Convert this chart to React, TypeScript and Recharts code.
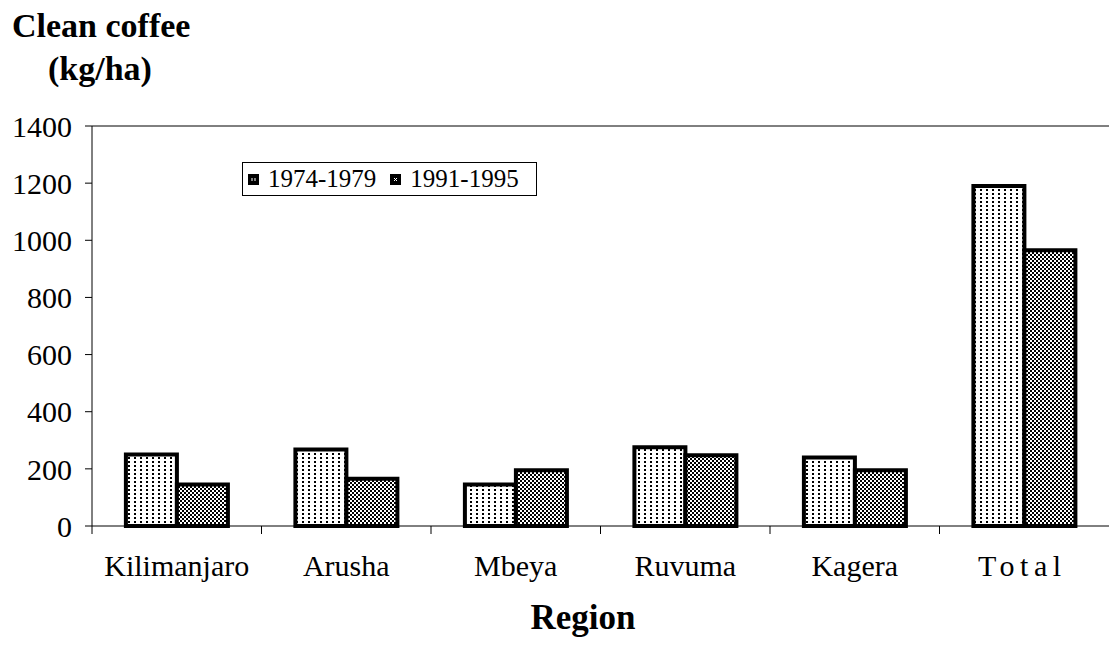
import React from 'react';
import { BarChart, Bar, XAxis, YAxis, ReferenceLine } from 'recharts';

// data
const regions = ['Kilimanjaro', 'Arusha', 'Mbeya', 'Ruvuma', 'Kagera', 'Total'];
const yield7479 = [250, 268, 145, 276, 240, 1190];
const yield9195 = [145, 165, 195, 248, 195, 965];
const yTicks = [0, 200, 400, 600, 800, 1000, 1200, 1400];
const seriesNames = ['1974-1979', '1991-1995'];

const W = 1109;
const H = 646;
const PLOT_LEFT = 92;
const PLOT_TOP = 126;
const PLOT_BOTTOM = 526;
const FONT = '"Liberation Serif", "Times New Roman", serif';

const data = regions.map((r, i) => ({
  region: r,
  early: yield7479[i],
  late: yield9195[i],
}));

const step = (W - PLOT_LEFT) / regions.length;

// category label + excel-style tick at category boundary
const RegionTick = (props: any) => {
  const { x, y, payload } = props;
  const spaced = payload.value === 'Total';
  return (
    <g>
      <line x1={x - step / 2} x2={x - step / 2} y1={y} y2={y + 8} stroke="#000" strokeWidth={1} />
      <text
        x={spaced ? x - 2 : x}
        y={y + 50}
        textAnchor="middle"
        fontFamily={FONT}
        fontSize={30}
        fill="#000"
        letterSpacing={spaced ? 5.5 : 0}
      >
        {payload.value}
      </text>
    </g>
  );
};

const LegendIcon = ({ idx }: { idx: number }) => (
  <svg width={11} height={11} style={{ display: 'block' }}>
    <rect x={0} y={0} width={11} height={11} fill="#000" />
    {idx === 0 ? (
      <>
        <rect x={3.5} y={4} width={1} height={3} fill="#fff" />
        <rect x={6.5} y={4} width={1} height={3} fill="#fff" />
      </>
    ) : (
      <>
        <rect x={4} y={4} width={1} height={1} fill="#fff" />
        <rect x={6} y={4} width={1} height={1} fill="#fff" />
        <rect x={5} y={5} width={1} height={1} fill="#fff" />
        <rect x={4} y={6} width={1} height={1} fill="#fff" />
        <rect x={6} y={6} width={1} height={1} fill="#fff" />
      </>
    )}
  </svg>
);

const LegendBox = () => (
  <div
    style={{
      position: 'absolute',
      left: 242,
      top: 162,
      border: '1px solid #000',
      background: '#fff',
      height: 34,
      width: 295,
      display: 'flex',
      alignItems: 'center',
      fontFamily: FONT,
      fontSize: 25,
      color: '#000',
      boxSizing: 'border-box',
      paddingLeft: 5,
    }}
  >
    {seriesNames.map((name, i) => (
      <div key={name} style={{ display: 'flex', alignItems: 'center', marginRight: 14 }}>
        <div style={{ marginRight: 9 }}>
          <LegendIcon idx={i} />
        </div>
        <span>{name}</span>
      </div>
    ))}
  </div>
);

export default function App() {
  return (
    <div style={{ position: 'absolute', left: 0, top: 0, width: W, height: H, background: '#fff' }}>
      <svg width={0} height={0} style={{ position: 'absolute' }}>
        <defs>
          <pattern id="dots" patternUnits="userSpaceOnUse" width={6} height={4}>
            <rect width={6} height={4} fill="#fff" />
            <rect x={2} y={1} width={2} height={2} fill="#000" />
          </pattern>
          <pattern id="checks" patternUnits="userSpaceOnUse" width={4} height={4}>
            <rect width={4} height={4} fill="#fff" />
            <rect x={0} y={0} width={2} height={2} fill="#000" />
            <rect x={2} y={2} width={2} height={2} fill="#000" />
          </pattern>
        </defs>
      </svg>

      <BarChart
        width={W}
        height={H}
        data={data}
        margin={{ top: PLOT_TOP, right: 0, left: 0, bottom: H - PLOT_BOTTOM - 60 }}
        barCategoryGap="20%"
        barGap={0}
      >
        <XAxis
          dataKey="region"
          height={60}
          axisLine={{ stroke: '#000', strokeWidth: 1 }}
          tickLine={false}
          tickSize={0}
          tickMargin={0}
          tick={<RegionTick />}
          interval={0}
        />
        <YAxis
          width={PLOT_LEFT}
          domain={[0, 1400]}
          ticks={yTicks}
          interval={0}
          axisLine={{ stroke: '#000', strokeWidth: 1 }}
          tickLine={{ stroke: '#000', strokeWidth: 1 }}
          tickSize={7}
          tickMargin={13}
          tick={{ fill: '#000', fontSize: 30, fontFamily: FONT }}
        />
        <ReferenceLine y={1400} stroke="#000" strokeWidth={1} />
        <Bar dataKey="early" name={seriesNames[0]} fill="url(#dots)" stroke="#000" strokeWidth={4} isAnimationActive={false} />
        <Bar dataKey="late" name={seriesNames[1]} fill="url(#checks)" stroke="#000" strokeWidth={4} isAnimationActive={false} />
      </BarChart>

      <LegendBox />

      <div style={{ position: 'absolute', left: 12, top: 9, fontFamily: FONT, fontWeight: 'bold', fontSize: 34, lineHeight: 1, whiteSpace: 'nowrap' }}>
        Clean coffee
      </div>
      <div style={{ position: 'absolute', left: 48, top: 52, fontFamily: FONT, fontWeight: 'bold', fontSize: 34, lineHeight: 1, whiteSpace: 'nowrap' }}>
        (kg/ha)
      </div>
      <div style={{ position: 'absolute', left: 483, width: 200, textAlign: 'center', top: 600, fontFamily: FONT, fontWeight: 'bold', fontSize: 35, lineHeight: 1 }}>
        Region
      </div>
    </div>
  );
}
